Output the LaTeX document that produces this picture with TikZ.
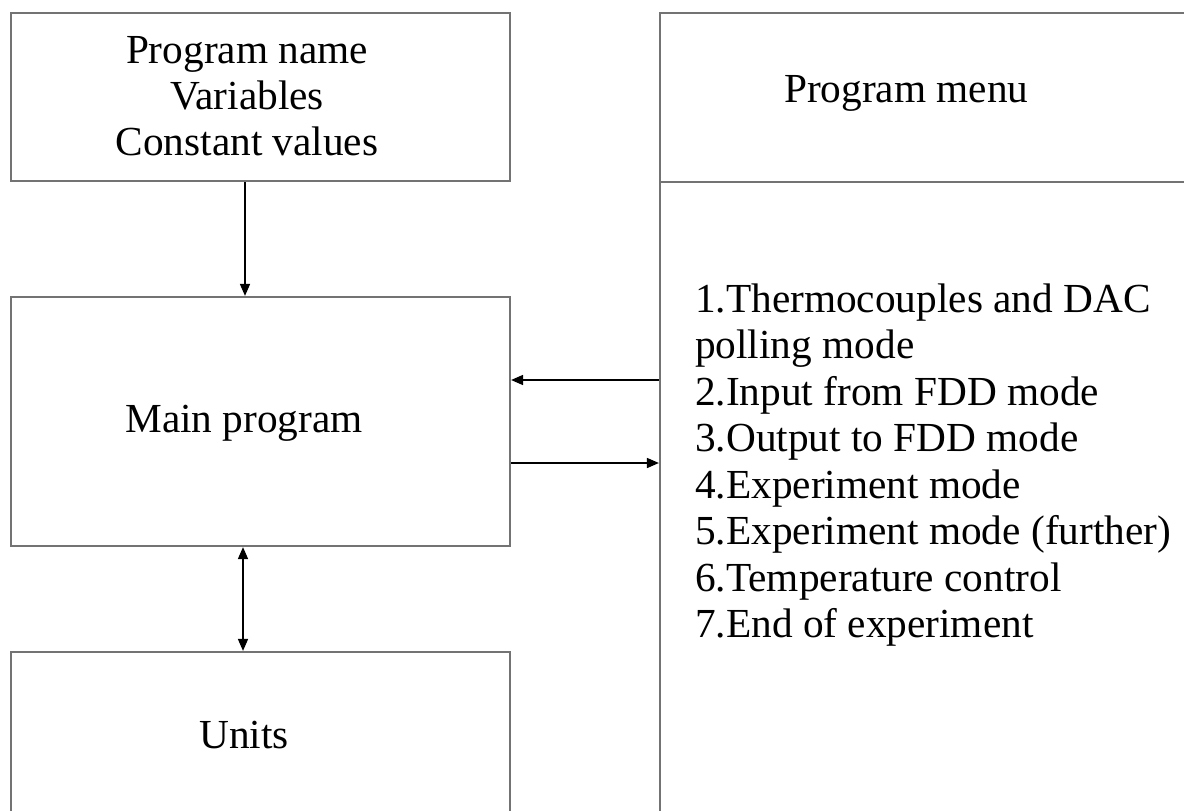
\documentclass[tikz,border=0pt]{standalone}
\usepackage{fontspec}
\setmainfont{Liberation Serif}
\usetikzlibrary{arrows.meta}
\begin{document}
\begin{tikzpicture}[x=1pt,y=-1pt,
  boxstyle/.style={draw=black!55,line width=2.2pt,rectangle,inner sep=0pt},
  arr/.style={draw=black,line width=1.6pt,-{Triangle[length=12pt,width=10pt]}},
  darr/.style={draw=black,line width=1.6pt,{Triangle[length=12pt,width=10pt]}-{Triangle[length=12pt,width=10pt]}},
  txt/.style={inner sep=0pt,font=\fontsize{41.3}{46.4}\selectfont}]
\useasboundingbox (0,0) rectangle (1184,811);
\clip (0,0) rectangle (1184,811);
\fill[white] (0,0) rectangle (1184,811);
% boxes
\node[boxstyle,minimum width=499pt,minimum height=168pt] (head) at (260.5,97) {};
\node[boxstyle,minimum width=499pt,minimum height=249pt] (main) at (260.5,421.5) {};
\node[boxstyle,minimum width=499pt,minimum height=190pt] (units) at (260.5,747) {};
\node[boxstyle,minimum width=560pt,minimum height=169pt] (menuhead) at (940,97.5) {};
\node[boxstyle,minimum width=560pt,minimum height=660pt] (menubody) at (940,512) {};
% texts
\node[txt,anchor=base] (t1) at (247,63) {Program name};
\node[txt,anchor=base] (t2) at (247,109) {Variables};
\node[txt,anchor=base] (t3) at (247,155) {Constant values};
\node[txt,anchor=base] (tmain) at (244,432) {Main program};
\node[txt,anchor=base] (tunits) at (244,748) {Units};
\node[txt,anchor=base west] (tmenu) at (784,102) {Program menu};
\node[txt,anchor=base west] (m1) at (695,312) {1.Thermocouples and DAC};
\node[txt,anchor=base west] (m2) at (695,358.5) {polling mode};
\node[txt,anchor=base west] (m3) at (695,405) {2.Input from FDD mode};
\node[txt,anchor=base west] (m4) at (695,451.5) {3.Output to FDD mode};
\node[txt,anchor=base west] (m5) at (695,498) {4.Experiment mode};
\node[txt,anchor=base west] (m6) at (695,544.5) {5.Experiment mode (further)};
\node[txt,anchor=base west] (m7) at (695,591) {6.Temperature control};
\node[txt,anchor=base west] (m8) at (695,637.5) {7.End of experiment};
% connectors
\draw[arr] (head.south -| 245,0) -- (main.north -| 245,0);
\draw[arr] (menubody.west |- 0,380) -- (main.east |- 0,380);
\draw[arr] (main.east |- 0,463) -- (menubody.west |- 0,463);
\draw[darr] (main.south -| 243,0) -- (units.north -| 243,0);
\end{tikzpicture}
\end{document}
